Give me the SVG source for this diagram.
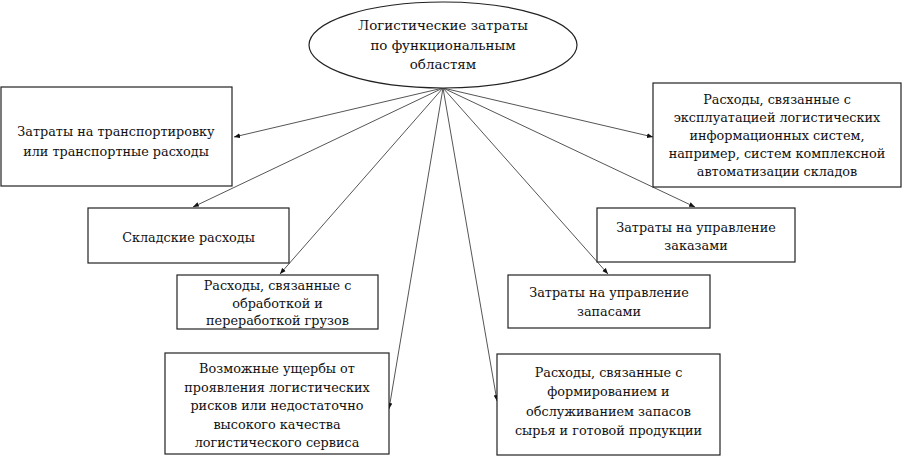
<svg xmlns="http://www.w3.org/2000/svg" width="906" height="461" viewBox="0 0 906 461">
<defs>
<marker id="arr" viewBox="0 0 10 10" refX="10" refY="5" markerWidth="6" markerHeight="6" orient="auto" markerUnits="userSpaceOnUse">
<path d="M0,1 L10,5 L0,9 Z" fill="#111"/>
</marker>
<style>
.box{fill:#fff;stroke:#222;stroke-width:1.2}
.t{font-family:"DejaVu Serif",serif;font-size:12.8px;fill:#111;text-anchor:middle}
.r{font-size:13.4px}
.c{stroke:#555;stroke-width:1;fill:none;marker-end:url(#arr)}
</style>
</defs>
<rect width="906" height="461" fill="#fff"/>
<g id="connectors">
<line class="c" x1="443" y1="88" x2="234" y2="137"/>
<line class="c" x1="443" y1="88" x2="653" y2="137"/>
<line class="c" x1="443" y1="88" x2="193" y2="207"/>
<line class="c" x1="443" y1="88" x2="695" y2="207"/>
<line class="c" x1="443" y1="88" x2="280" y2="274"/>
<line class="c" x1="443" y1="88" x2="608" y2="274"/>
<line class="c" x1="443" y1="88" x2="389" y2="409"/>
<line class="c" x1="443" y1="88" x2="497" y2="401"/>
</g>
<g id="root">
<ellipse class="box" cx="443" cy="45" rx="134" ry="43"/>
<text class="t r" x="443" y="30">Логистические затраты</text>
<text class="t r" x="443" y="50">по функциональным</text>
<text class="t r" x="443" y="69">областям</text>
</g>
<g id="transport">
<rect class="box" x="1" y="87" width="231" height="99"/>
<text class="t" x="116" y="136">Затраты на транспортировку</text>
<text class="t" x="116" y="156">или транспортные расходы</text>
</g>
<g id="info">
<rect class="box" x="653" y="83" width="248" height="104"/>
<text class="t" x="777" y="104">Расходы, связанные с</text>
<text class="t" x="777" y="122">эксплуатацией логистических</text>
<text class="t" x="777" y="140">информационных систем,</text>
<text class="t" x="777" y="158">например, систем комплексной</text>
<text class="t" x="777" y="176">автоматизации складов</text>
</g>
<g id="warehouse">
<rect class="box" x="88" y="208" width="201" height="55"/>
<text class="t" x="188.5" y="242">Складские расходы</text>
</g>
<g id="orders">
<rect class="box" x="597" y="208" width="198" height="54"/>
<text class="t" x="696" y="232">Затраты на управление</text>
<text class="t" x="696" y="250">заказами</text>
</g>
<g id="handling">
<rect class="box" x="177" y="275" width="201" height="54"/>
<text class="t" x="277.5" y="290">Расходы, связанные с</text>
<text class="t" x="277.5" y="307.5">обработкой и</text>
<text class="t" x="277.5" y="325">переработкой грузов</text>
</g>
<g id="inventory">
<rect class="box" x="508" y="275" width="202" height="53"/>
<text class="t" x="609" y="297">Затраты на управление</text>
<text class="t" x="609" y="316">запасами</text>
</g>
<g id="risks">
<rect class="box" x="165" y="353" width="224" height="101"/>
<text class="t" x="277" y="373">Возможные ущербы от</text>
<text class="t" x="277" y="391.5">проявления логистических</text>
<text class="t" x="277" y="410">рисков или недостаточно</text>
<text class="t" x="277" y="428.5">высокого качества</text>
<text class="t" x="277" y="447">логистического сервиса</text>
</g>
<g id="stocks">
<rect class="box" x="497" y="354" width="223" height="101"/>
<text class="t" x="608.5" y="377">Расходы, связанные с</text>
<text class="t" x="608.5" y="396">формированием и</text>
<text class="t" x="608.5" y="416">обслуживанием запасов</text>
<text class="t" x="608.5" y="435">сырья и готовой продукции</text>
</g>
</svg>
